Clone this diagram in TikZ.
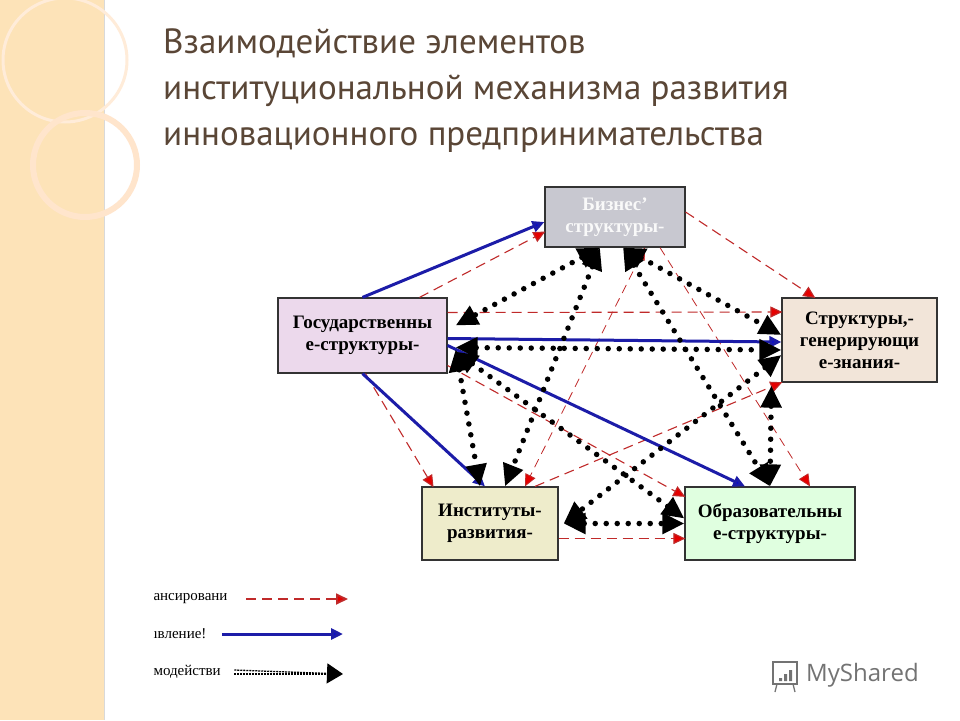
\documentclass[tikz,border=0pt]{standalone}
\usepackage{fontspec}
\setmainfont{Liberation Serif}
\newfontfamily\titlefont{PT Sans}
\newfontfamily\logofont{Open Sans}
\usetikzlibrary{arrows.meta}
\definecolor{titlec}{HTML}{5A4636}
\definecolor{redl}{HTML}{C02A2A}
\definecolor{bluel}{HTML}{1C1CA8}
\tikzset{
 box/.style={draw=black!80,line width=1.2pt,font=\bfseries\fontsize{19}{22}\selectfont,align=center,inner sep=0pt},
 fin/.style={-{Triangle[length=12pt,width=11pt,fill=red!90!black]},draw=redl,line width=1.1pt,dash pattern=on 10pt off 6pt,shorten >=-1pt},
 fin2/.style={{Triangle[length=12pt,width=11pt,fill=red!90!black]}-{Triangle[length=12pt,width=11pt,fill=red!90!black]},draw=redl,line width=0.8pt,dash pattern=on 9pt off 6pt},
 upr/.style={-{Triangle[length=12pt,width=11pt,fill=blue!90!black]},draw=bluel,line width=3pt},
 inter/.style={{Triangle[length=22pt,width=20pt,fill=black]}-{Triangle[length=22pt,width=20pt,fill=black]},line width=5.5pt,dash pattern=on 0pt off 11pt,line cap=round},
 leg/.style={font=\fontsize{15}{17}\selectfont,anchor=west}
}
\begin{document}
\begin{tikzpicture}[x=1pt,y=-1pt]
\useasboundingbox (0,0) rectangle (960,720);
\fill[white] (0,0) rectangle (960,720);
% left decorative band
\fill[yellow!20!orange!25!white] (0,0) rectangle (104,720);
\draw[black!15,line width=0.8pt] (104,0) -- (104,720);
\draw[white!85!orange,line width=3pt] (65,60) circle (62);
\draw[white!80!orange,line width=6pt] (85,165) circle (52);
% title
\node[anchor=north west,font=\titlefont\fontsize{35}{46}\selectfont,text=titlec,align=left,inner sep=0pt] (title) at (163,29)
 {Взаимодействие элементов\\институциональной механизма развития\\инновационного предпринимательства};
% boxes
\node[box,fill=blue!8!gray!40,text=white!95!gray,minimum width=140pt,minimum height=60pt] (bus) at (615,217) {Бизнес'\\структуры-};
\node[box,fill=violet!15!white,minimum width=169pt,minimum height=75pt] (gov) at (362.5,335.5) {Государственны\\е-структуры-};
\node[box,fill=brown!20!white,minimum width=155pt,minimum height=84pt] (str) at (859.5,340) {Структуры,-\\генерирующи\\е-знания-};
\node[box,fill=olive!15!white,minimum width=136pt,minimum height=73pt] (inst) at (490,523.5) {Институты-\\развития-};
\node[box,fill=green!12!white,minimum width=170pt,minimum height=73pt] (edu) at (770,523.5) {Образовательны\\е-структуры-};
% red dashed
\draw[fin] ([xshift=57pt]gov.north) -- ([yshift=-15pt]bus.west);
\draw[fin] ([yshift=5pt]bus.east) -- ([xshift=-45pt]str.north);
\draw[fin] ([yshift=23pt]gov.east) -- ([yshift=28pt]str.west);
\draw[fin] ([xshift=3pt]gov.south) -- ([xshift=-57pt]inst.north);
\draw[fin] ([yshift=-30pt]gov.east) -- ([yshift=-10pt]edu.north west);
\draw[fin2,-{Triangle[length=12pt,width=11pt,fill=red!90!black]}] ([xshift=45pt]bus.south) -- ([xshift=40pt]edu.north);
\draw[fin2] ([xshift=30pt]bus.south) -- ([xshift=35pt]inst.north);
\draw[fin] ([xshift=45pt]inst.north) -- (str.south west);
\draw[fin] ([yshift=-15pt]inst.east) -- ([yshift=-15pt]edu.west);
% blue
\draw[upr] (gov.north) -- ([yshift=-5pt]bus.west);
\draw[upr] ([yshift=-3pt]gov.east) -- ([yshift=-2pt]str.west);
\draw[upr] ([yshift=-10pt]gov.east) -- ([xshift=-25pt]edu.north);
\draw[upr] (gov.south) -- ([xshift=-5pt]inst.north);
% black dotted interaction
\draw[inter] ([xshift=-15pt]bus.south) -- ([xshift=8pt,yshift=10pt]gov.east);
\draw[inter] ([xshift=-15pt]bus.south) -- ([xshift=15pt]inst.north);
\draw[inter] ([xshift=8pt]bus.south) -- ([yshift=5pt]str.west);
\draw[inter] ([xshift=8pt]bus.south) -- ([xshift=0pt]edu.north);
\draw[inter] ([xshift=8pt,yshift=-12pt]gov.east) -- ([yshift=-10pt]str.west);
\draw[inter] ([xshift=8pt,yshift=-14pt]gov.east) -- ([xshift=-10pt]inst.north);
\draw[inter] ([xshift=8pt,yshift=-16pt]gov.east) -- ([yshift=5pt]edu.west);
\draw[inter] ([yshift=-15pt]str.west) -- ([xshift=5pt]inst.east);
\draw[inter] ([xshift=-10pt,yshift=-3pt]str.south west) -- ([xshift=0pt]edu.north);
\draw[inter] ([xshift=5pt]inst.east) -- (edu.west);
% legend
\node[leg] (l1) at (150,599) {ансировани};
\node[leg] (l2) at (150,634) {ıвление!};
\node[leg] (l3) at (150,672) {модействи};
\coordinate (e1) at (347,599);
\coordinate (e2) at (343,634);
\coordinate (e3) at (343,672);
\draw[fin,line width=1.8pt] ([xshift=15pt]l1.east) -- (e1);
\draw[upr] ([xshift=12pt]l2.east) -- (e2);
\draw[line width=1.3pt,dash pattern=on 2pt off 1pt,-{Triangle[length=16pt,width=20pt,fill=black]}] ([xshift=10pt,yshift=2pt]l3.east) -- ([yshift=-2pt]e3);
\draw[line width=1.3pt,dash pattern=on 2pt off 1pt] ([xshift=10pt,yshift=-2pt]l3.east) -- ([xshift=-16pt,yshift=-2pt]e3);
% logo
\node[font=\logofont\fontsize{24}{26}\selectfont,text=black!55,anchor=west,inner sep=0pt] (logo) at (806,675) {MyShared};
\draw[black!55,line width=1.3pt] (773,662) rectangle (797,684);
\draw[black!55,line width=1.3pt] (777,684) -- (775,692) (793,684) -- (795,692);
\fill[black!55] (779,678) rectangle (782,681) (784,674) rectangle (787,681) (789,670) rectangle (792,681);
\end{tikzpicture}
\end{document}
